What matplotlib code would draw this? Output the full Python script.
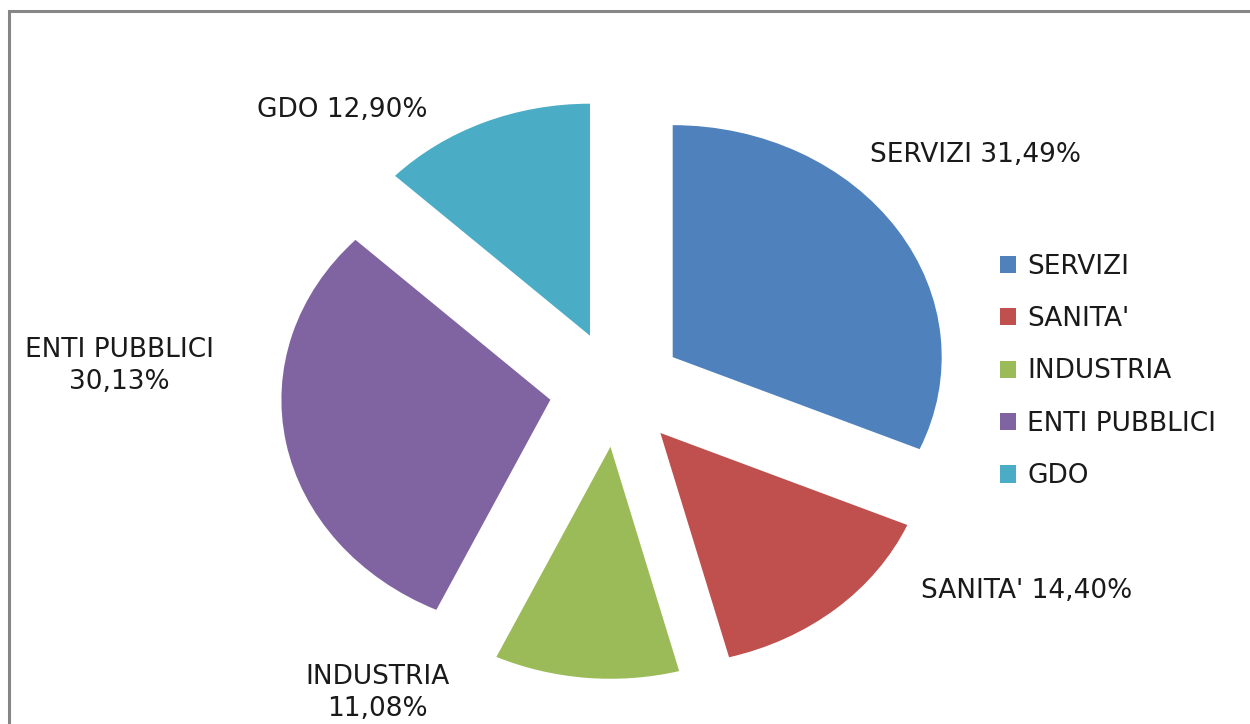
import numpy as np
import matplotlib
matplotlib.use("Agg")
import matplotlib.pyplot as plt
from matplotlib.patches import Rectangle

plt.rcParams["font.family"] = ["DejaVu Sans"]

# data
categories = ["SERVIZI", "SANITA'", "INDUSTRIA", "ENTI PUBBLICI", "GDO"]
shares = [31.49, 14.40, 11.08, 30.13, 12.90]
colors = ["#4F81BD", "#C0504D", "#9BBB59", "#8064A2", "#4BACC6"]
label_texts = ["SERVIZI 31,49%", "SANITA' 14,40%", "INDUSTRIA\n11,08%",
               "ENTI PUBBLICI\n30,13%", "GDO 12,90%"]

# label anchor positions in pie units (layout only)
label_pos = [(1.336, 1.009), (1.526, -0.871), (-0.887, -1.31),
             (-1.849, 0.099), (-1.02, 1.203)]

W, H = 1250, 724
fig = plt.figure(figsize=(W / 100, H / 100), dpi=100)
ax = fig.add_axes([0, 0, 1, 1])

ax.pie(shares, colors=colors, explode=[0.25] * len(shares), startangle=90,
       counterclock=False, radius=1.0, wedgeprops=dict(linewidth=0))

# pie is stretched horizontally in the original (rx 269 px, ry 232 px)
cx, cy, rx, ry = 616.5, 389.0, 269.0, 232.0
ax.set_aspect("auto")
ax.set_xlim(-cx / rx, (W - cx) / rx)
ax.set_ylim((cy - H) / ry, cy / ry)
ax.axis("off")

for txt, (x, y) in zip(label_texts, label_pos):
    ax.text(x, y, txt, ha="center", va="center", fontsize=19,
            color="#1a1a1a", linespacing=1.3)

handles = [Rectangle((0, 0), 1, 1, facecolor=c, edgecolor="none") for c in colors]
fig.legend(handles, categories, loc="center left",
           bbox_to_anchor=(1000 / W, 1 - 371.5 / H), frameon=False,
           fontsize=19, handlelength=0.62, handleheight=0.62,
           handletextpad=0.42, labelspacing=1.0, borderpad=0,
           borderaxespad=0, labelcolor="#1a1a1a")

# chart frame (runs off the right and bottom edges in the original)
fig.patches.append(Rectangle((8.7 / W, -0.2), 2.0, 1.2 - 11.3 / H,
                             transform=fig.transFigure, fill=False,
                             edgecolor="#868686", linewidth=2.2))

fig.savefig("out.png", dpi=100)
